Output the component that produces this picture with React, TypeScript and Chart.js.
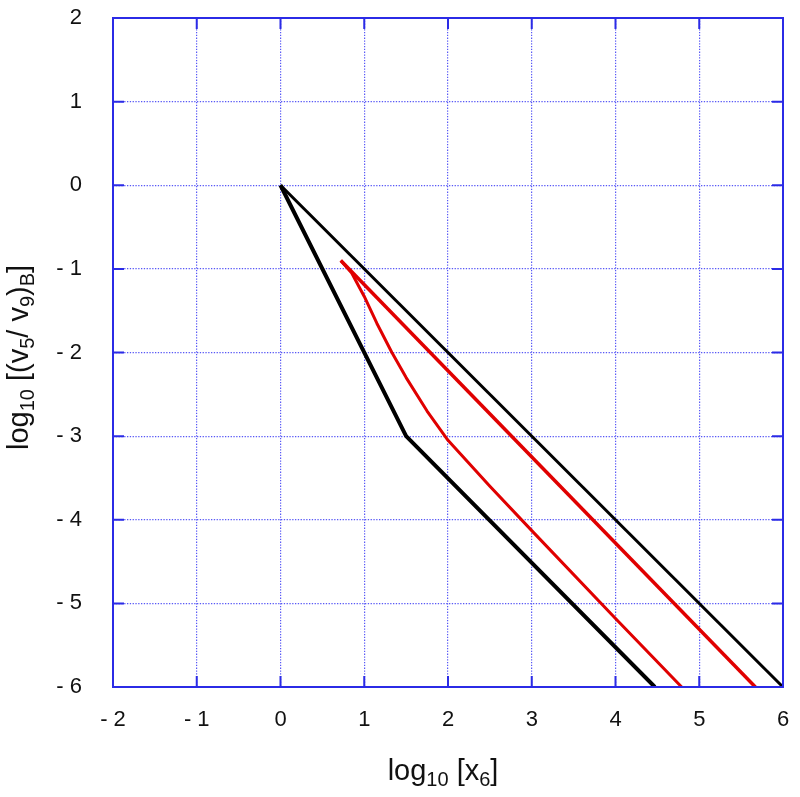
import React, { useEffect, useRef } from "react";
import { Chart, registerables } from "chart.js";

Chart.register(...registerables);

// X range / tick values
const xTicks = [-2, -1, 0, 1, 2, 3, 4, 5, 6];
const yTicks = [-6, -5, -4, -3, -2, -1, 0, 1, 2];

// Black outer (upper) boundary
const blackUpperX = [0, 6];
const blackUpperY = [0, -6];

// Black lower boundary (kinked)
const blackLowerX = [0, 1.5, 4.47];
const blackLowerY = [0, -3, -6];

// Red upper line
const redUpperX = [0.72, 5.67];
const redUpperY = [-0.9, -6];

// Red lower curve
const redLowerX = [0.72, 0.85, 1.0, 1.15, 1.33, 1.5, 1.75, 2.0, 2.5, 3.0, 4.0, 4.79];
const redLowerY = [-0.9, -1.05, -1.33, -1.65, -2.0, -2.3, -2.7, -3.05, -3.6, -4.13, -5.18, -6];

const pts = (xs: number[], ys: number[]) => xs.map((x, i) => ({ x, y: ys[i] }));

const fmt = (v: number) => (v < 0 ? "- " + Math.abs(v) : String(v));

const FONT = "'Liberation Sans', Arial, Helvetica, sans-serif";
const BLUE = "#2b2be6";

type Seg = { t: string; sub?: boolean };
const xTitle: Seg[] = [
  { t: "log" }, { t: "10", sub: true }, { t: " [x" }, { t: "6", sub: true }, { t: "]" },
];
const yTitle: Seg[] = [
  { t: "log" }, { t: "10", sub: true }, { t: " [(v" }, { t: "5", sub: true },
  { t: "/ v" }, { t: "9", sub: true }, { t: ")" }, { t: "B", sub: true }, { t: "]" },
];

function drawSegs(ctx: CanvasRenderingContext2D, segs: Seg[], cx: number, baseline: number) {
  const main = `29px ${FONT}`;
  const sub = `20px ${FONT}`;
  let total = 0;
  for (const s of segs) {
    ctx.font = s.sub ? sub : main;
    total += ctx.measureText(s.t).width;
  }
  let x = cx - total / 2;
  ctx.fillStyle = "#111";
  ctx.textBaseline = "alphabetic";
  ctx.textAlign = "left";
  for (const s of segs) {
    ctx.font = s.sub ? sub : main;
    ctx.fillText(s.t, x, baseline + (s.sub ? 6 : 0));
    x += ctx.measureText(s.t).width;
  }
}

const framePlugin = {
  id: "frameAndTitles",
  afterDraw(chart: any) {
    const { ctx, chartArea: a, scales } = chart;
    const xs = scales.x;
    const ys = scales.y;
    ctx.save();
    ctx.strokeStyle = BLUE;
    ctx.lineWidth = 2;
    ctx.setLineDash([]);
    ctx.strokeRect(a.left, a.top, a.right - a.left, a.bottom - a.top);
    const L = 11;
    ctx.beginPath();
    for (const v of xTicks.slice(1, -1)) {
      const px = xs.getPixelForValue(v);
      ctx.moveTo(px, a.bottom);
      ctx.lineTo(px, a.bottom - L);
      ctx.moveTo(px, a.top);
      ctx.lineTo(px, a.top + L);
    }
    for (const v of yTicks.slice(1, -1)) {
      const py = ys.getPixelForValue(v);
      ctx.moveTo(a.left, py);
      ctx.lineTo(a.left + L, py);
      ctx.moveTo(a.right, py);
      ctx.lineTo(a.right - L, py);
    }
    ctx.stroke();

    // x title
    drawSegs(ctx, xTitle, (a.left + a.right) / 2 - 5, 780);
    // y title
    ctx.translate(28, (a.top + a.bottom) / 2 + 5);
    ctx.rotate(-Math.PI / 2);
    drawSegs(ctx, yTitle, 0, 0);
    ctx.restore();
  },
};

export default function App() {
  const ref = useRef<HTMLCanvasElement>(null);
  useEffect(() => {
    if (!ref.current) return;
    const lineDs = (label: string, data: any[], color: string, w: number) => ({
      label,
      data,
      showLine: true,
      borderColor: color,
      backgroundColor: color,
      borderWidth: w,
      pointRadius: 0,
      tension: 0,
      fill: false,
      borderJoinStyle: "round",
    });
    const chart = new Chart(ref.current, {
      type: "scatter",
      data: {
        datasets: [
          lineDs("black upper", pts(blackUpperX, blackUpperY), "#000", 3),
          lineDs("black lower", pts(blackLowerX, blackLowerY), "#000", 4),
          lineDs("red upper", pts(redUpperX, redUpperY), "#e00000", 3.5),
          lineDs("red lower", pts(redLowerX, redLowerY), "#e00000", 3),
        ],
      },
      options: {
        animation: false,
        responsive: false,
        events: [],
        layout: { padding: { left: 0, top: 18, right: 17, bottom: 0 } },
        plugins: { legend: { display: false }, tooltip: { enabled: false } },
        scales: {
          x: {
            type: "linear",
            min: -2,
            max: 6,
            afterFit: (s: any) => {
              s.height = 110;
              s.paddingLeft = 0;
              s.paddingRight = 0;
            },
            afterBuildTicks: (s: any) => { s.ticks = xTicks.map((v) => ({ value: v })); },
            ticks: {
              callback: (v: any) => fmt(Number(v)),
              color: "#111",
              font: { family: FONT, size: 22 },
              padding: 20,
              maxRotation: 0,
            },
            grid: { color: "rgba(70,70,245,0.9)", lineWidth: 1.2, drawTicks: false },
            border: { display: false, dash: [1.3, 1.5] },
          },
          y: {
            type: "linear",
            min: -6,
            max: 2,
            afterFit: (s: any) => {
              s.width = 113;
              s.paddingTop = 0;
              s.paddingBottom = 0;
            },
            afterBuildTicks: (s: any) => { s.ticks = yTicks.map((v) => ({ value: v })); },
            ticks: {
              callback: (v: any) => fmt(Number(v)),
              color: "#111",
              font: { family: FONT, size: 22 },
              padding: 31,
            },
            grid: { color: "rgba(70,70,245,0.9)", lineWidth: 1.2, drawTicks: false },
            border: { display: false, dash: [1.3, 1.5] },
          },
        },
      },
      plugins: [framePlugin],
    } as any);
    return () => chart.destroy();
  }, []);
  return (
    <div style={{ position: "absolute", left: 0, top: 0, width: 800, height: 797, background: "#fff" }}>
      <canvas ref={ref} width={800} height={797} style={{ display: "block" }} />
    </div>
  );
}
